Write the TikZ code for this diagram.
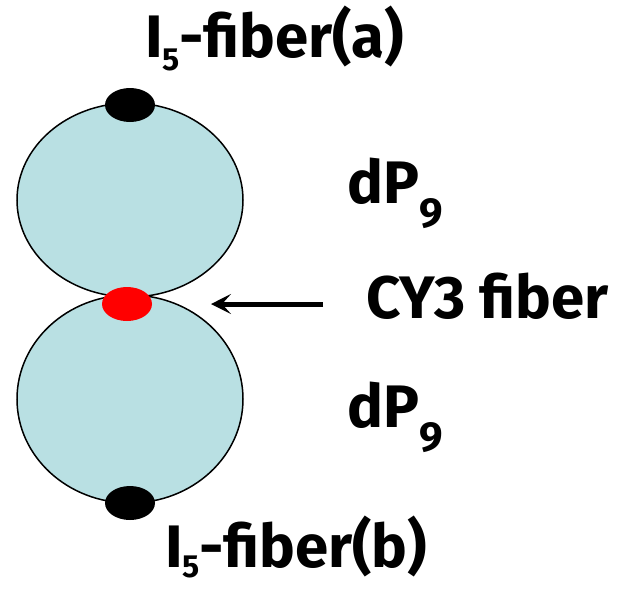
\documentclass[tikz,border=0pt]{standalone}
\usepackage{fontspec}
\setmainfont{Fira Sans}
\usetikzlibrary{shapes.geometric,arrows.meta}
\definecolor{ballblue}{HTML}{B9E0E3}
\begin{document}
\begin{tikzpicture}[x=1pt,y=-1pt,
  ball/.style={ellipse,draw=black,line width=1.5pt,fill=ballblue,inner sep=0pt},
  blob/.style={ellipse,inner sep=0pt,minimum width=50pt,minimum height=34pt},
  lbl/.style={anchor=base west,inner sep=0pt,font=\bfseries\fontsize{60}{60}\selectfont}]
\useasboundingbox (0,0) rectangle (621,590);
\node[ball,minimum width=226pt,minimum height=194pt] (top) at (130,200) {};
\node[ball,minimum width=226pt,minimum height=208pt] (bot) at (130,399) {};
\node[blob,fill=black] (ta) at (130,105) {};
\node[blob,fill=red] (cy) at (127,304) {};
\node[blob,fill=black] (tb) at (130,503) {};
\node[lbl] (la) at (145,57) {I\raisebox{-0.22em}{\fontsize{32}{32}\selectfont 5}-fiber(a)};
\node[lbl] (pa) at (347,203) {dP\raisebox{-0.4em}{\fontsize{42}{42}\selectfont 9}};
\node[lbl] (lc) at (366,318) {CY3 fiber};
\node[lbl] (pb) at (347,427) {dP\raisebox{-0.4em}{\fontsize{42}{42}\selectfont 9}};
\node[lbl] (lb) at (165,567) {I\raisebox{-0.18em}{\fontsize{32}{32}\selectfont 5}-fiber(b)};
\coordinate (tail) at (323,304);
\coordinate (head) at (211,304);
\draw[line width=5pt,-{Stealth[length=20pt,width=20pt,inset=9pt]}] (tail) -- (head);
\end{tikzpicture}
\end{document}
